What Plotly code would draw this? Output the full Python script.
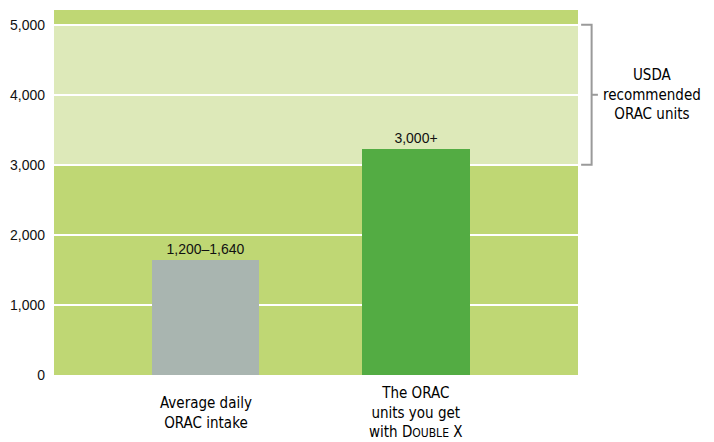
import plotly.graph_objects as go

categories = ["avg", "doublex"]
values = [1640, 3220]
value_labels = ["1,200\u20131,640", "3,000+"]
category_labels = [
    "Average daily<br>ORAC intake",
    "The ORAC<br>units you get<br>with D<span style='font-size:12px'>OUBLE</span> X",
]
bar_colors = ["#a9b5b0", "#53ac43"]
band_range = [3000, 5000]
band_label = "USDA<br>recommended<br>ORAC units"
y_ticks = [0, 1000, 2000, 3000, 4000, 5000]
y_tick_text = ["0", "1,000", "2,000", "3,000", "4,000", "5,000"]

narrow = "DejaVu Sans Condensed, Liberation Sans Narrow, sans-serif"
regular = "Liberation Sans, Arial, sans-serif"

fig = go.Figure()
fig.add_trace(go.Bar(
    x=categories, y=values, marker=dict(color=bar_colors, line=dict(width=0)),
    width=0.51, text=value_labels, textposition="outside",
    textfont=dict(family=regular, size=14, color="#111"),
    cliponaxis=False, hoverinfo="skip",
))

shapes = [
    dict(type="rect", xref="paper", yref="y", x0=0, x1=1,
         y0=band_range[0], y1=band_range[1], fillcolor="#dde9b9",
         line=dict(width=0), layer="below"),
    dict(type="path", xref="paper", yref="y",
         path=f"M 1.006 {band_range[1]} L 1.026 {band_range[1]} L 1.026 {band_range[0]} L 1.006 {band_range[0]}",
         line=dict(color="#9a9a9a", width=2)),
    dict(type="line", xref="paper", yref="y", x0=1.026, x1=1.038,
         y0=sum(band_range) / 2, y1=sum(band_range) / 2,
         line=dict(color="#9a9a9a", width=2)),
]

annotations = [
    dict(xref="paper", yref="y", x=1.141, y=sum(band_range) / 2,
         text=band_label, showarrow=False, xanchor="center", yanchor="middle",
         font=dict(family=narrow, size=15, color="#000")),
]
for c, lab in zip(categories, category_labels):
    annotations.append(dict(xref="x", yref="paper", x=c, y=-0.103, text=lab,
                            showarrow=False, xanchor="center", yanchor="middle",
                            font=dict(family=narrow, size=15, color="#000")))

fig.update_layout(
    width=714, height=442,
    margin=dict(l=54, r=136, t=10, b=67),
    paper_bgcolor="white", plot_bgcolor="#bfd774",
    showlegend=False, bargap=0,
    shapes=shapes, annotations=annotations,
    xaxis=dict(range=[-0.72, 1.77], showticklabels=False, showgrid=False,
               zeroline=False, showline=False, ticks=""),
    yaxis=dict(range=[0, 5210], tickvals=y_ticks, ticktext=y_tick_text,
               showgrid=True, gridcolor="white", gridwidth=1.5,
               zeroline=False, showline=False, ticks="", ticklabelstandoff=8,
               tickfont=dict(family=regular, size=14, color="#111")),
)

fig.write_html("out.html", config={"displayModeBar": False},
               post_script="document.body.style.margin='0px';")
